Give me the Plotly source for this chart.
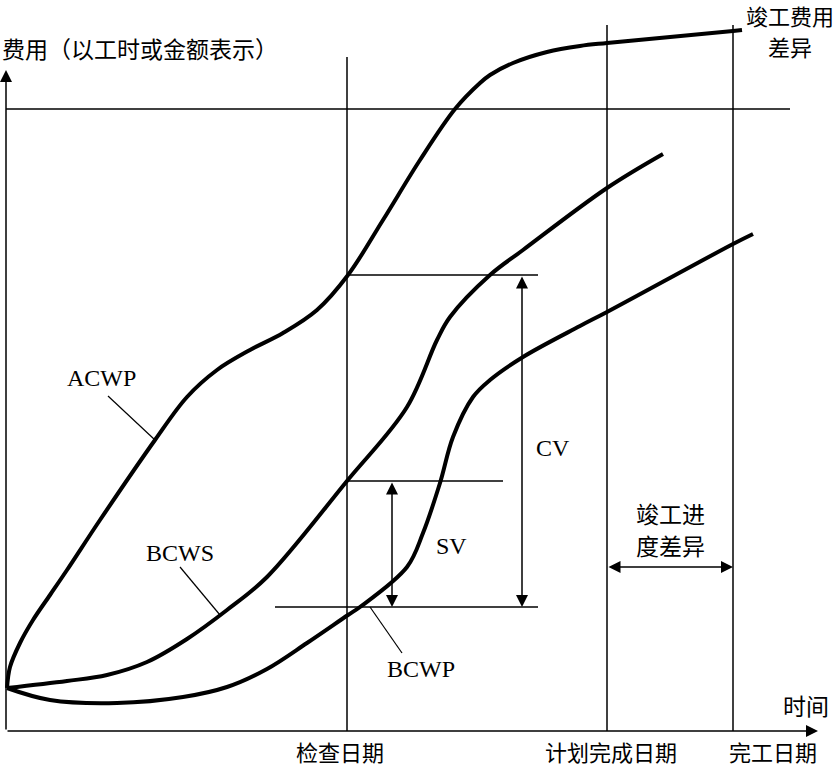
import plotly.graph_objects as go

# ---------------- data (time units on x, cost units on y) ----------------
acwp_t = [1, 4, 14, 27, 44, 61, 94, 149, 181, 211, 244, 277, 311, 342, 377, 414, 449, 474, 484, 507, 541, 574, 601, 727, 736]
acwp_c = [43, 64, 88, 111, 136, 161, 211, 291, 334, 361, 381, 398, 421, 456, 511, 571, 622, 648, 656, 668, 679, 685, 688, 700, 701]

bcws_t = [1, 61, 101, 141, 181, 221, 261, 341, 401, 431, 444, 484, 517, 601, 657]
bcws_c = [43, 50, 56, 69, 92, 121, 154, 250, 324, 391, 414, 456, 481, 543, 577]

bcwp_t = [1, 44, 111, 177, 221, 261, 301, 342, 354, 401, 417, 434, 447, 467, 484, 517, 574, 601, 727, 747]
bcwp_c = [43, 31, 28, 34, 44, 62, 88, 116, 124, 164, 198, 248, 294, 334, 351, 374, 405, 419, 487, 497]

check_date = 341        # 检查日期
plan_finish = 601       # 计划完成日期
actual_finish = 727     # 完工日期
budget_total = 622      # 预算总额水平线
acwp_at_check = 456
bcws_at_check = 250
bcwp_at_check = 124

x_labels = ["检查日期", "计划完成日期", "完工日期"]

# ---------------- helpers (pixel -> data for text placement) ----------------
def X(px):
    return px - 6

def Y(py):
    return 731 - py

CJK = "Noto Sans CJK SC"
SERIF = "Liberation Serif"
BLACK = "#000000"

fig = go.Figure()

for t, c in [(acwp_t, acwp_c), (bcws_t, bcws_c), (bcwp_t, bcwp_c)]:
    fig.add_trace(go.Scatter(x=t, y=c, mode="lines",
                             line=dict(color=BLACK, width=4, shape="spline", smoothing=1.0),
                             hoverinfo="skip", showlegend=False))

thin = dict(color=BLACK, width=1.5)
shapes = [
    # budget total horizontal line
    dict(type="line", x0=0, x1=X(790), y0=budget_total, y1=budget_total, line=thin),
    # date verticals
    dict(type="line", x0=check_date, x1=check_date, y0=0, y1=Y(57), line=thin),
    dict(type="line", x0=plan_finish, x1=plan_finish, y0=0, y1=Y(25), line=thin),
    dict(type="line", x0=actual_finish, x1=actual_finish, y0=0, y1=Y(25), line=thin),
    # level lines at check date
    dict(type="line", x0=check_date, x1=X(538), y0=acwp_at_check, y1=acwp_at_check, line=thin),
    dict(type="line", x0=check_date, x1=X(503), y0=bcws_at_check, y1=bcws_at_check, line=thin),
    dict(type="line", x0=X(275), x1=X(538), y0=bcwp_at_check, y1=bcwp_at_check, line=thin),
    # leader lines
    dict(type="line", x0=X(108), y0=Y(396), x1=X(155), y1=Y(440), line=dict(color=BLACK, width=1.2)),
    dict(type="line", x0=X(180), y0=Y(567), x1=X(220), y1=Y(615), line=dict(color=BLACK, width=1.2)),
    dict(type="line", x0=X(370), y0=Y(607), x1=X(402), y1=Y(653), line=dict(color=BLACK, width=1.2)),
]

annotations = []

def arrow(x0, y0, x1, y1, both=False):
    annotations.append(dict(x=x1, y=y1, ax=x0, ay=y0, xref="x", yref="y", axref="x", ayref="y",
                            text="", showarrow=True, arrowhead=2, arrowsize=1.6, arrowwidth=1.5,
                            arrowcolor=BLACK, arrowside="end+start" if both else "end",
                            standoff=0, startstandoff=0))

# axes
arrow(0, 0, 0, Y(70))
arrow(0, 0, X(818), 0)
# SV, CV, schedule variance
arrow(X(392), bcws_at_check, X(392), bcwp_at_check, both=True)
arrow(X(522), acwp_at_check, X(522), bcwp_at_check, both=True)
arrow(plan_finish, Y(567), actual_finish, Y(567), both=True)

def text(s, px, py, font=CJK, size=24, xanchor="center"):
    annotations.append(dict(x=X(px), y=Y(py), xref="x", yref="y", text=s, showarrow=False,
                            xanchor=xanchor, yanchor="middle",
                            font=dict(family=font, size=size, color=BLACK)))

text("费用（以工时或金额表示）", 0, 48, xanchor="left", size=23)
text("竣工费用", 790, 15, size=22)
text("差异", 790, 46, size=22)
text("时间", 806, 705, size=23)
text(x_labels[0], 340, 751, size=22)
text(x_labels[1], 611, 751, size=22)
text(x_labels[2], 773, 751, size=22)
text("竣工进", 670, 513, size=23)
text("度差异", 670, 545, size=23)
text("ACWP", 101, 378, font=SERIF, size=24)
text("BCWS", 180, 553, font=SERIF, size=24)
text("BCWP", 421, 669, font=SERIF, size=24)
text("CV", 553, 448, font=SERIF, size=24)
text("SV", 451, 546, font=SERIF, size=24)

fig.update_layout(
    width=838, height=767,
    margin=dict(l=0, r=0, t=0, b=0),
    paper_bgcolor="white", plot_bgcolor="white",
    xaxis=dict(range=[-6, 832], visible=False, fixedrange=True),
    yaxis=dict(range=[-36, 731], visible=False, fixedrange=True),
    shapes=shapes, annotations=annotations, showlegend=False,
)

fig.write_html("out.html", config={"displayModeBar": False},
               post_script="document.body.style.margin='0';document.body.style.overflow='hidden';")
